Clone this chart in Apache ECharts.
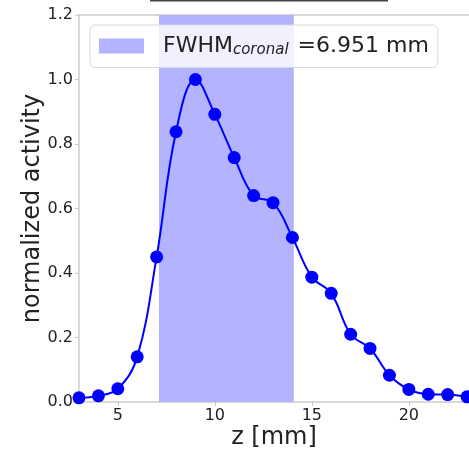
<!DOCTYPE html>
<html>
<head>
<meta charset="utf-8">
<style>
  html, body { margin: 0; padding: 0; background: #fff; }
  #chart { width: 469px; height: 450px; }
</style>
<script src="https://cdn.jsdelivr.net/npm/echarts@6/dist/echarts.min.js"></script>
</head>
<body>
<div id="chart"></div>
<script>
// Axial activity profile along z, normalised to its peak
const zPositions = [3, 4, 5, 6, 7, 8, 9, 10, 11, 12, 13, 14, 15, 16, 17, 18, 19, 20, 21, 22, 23];
const activity = [0.013, 0.019, 0.041, 0.14, 0.45, 0.838, 1.0, 0.892, 0.758, 0.64, 0.618, 0.51,
                  0.387, 0.337, 0.21, 0.166, 0.083, 0.039, 0.024, 0.023, 0.016];

// Full width at half maximum band
const fwhmStart = 7.12;
const fwhmEnd = 14.07;
const fwhmValue = 6.951;

const xTicks = [5, 10, 15, 20];
const yTicks = [0, 0.2, 0.4, 0.6, 0.8, 1.0, 1.2];

const FONT = 'DejaVu Sans';
const TEXT = '#222';
const SPINE = '#cccccc';

const chart = echarts.init(document.getElementById('chart'), null, { renderer: 'canvas' });

chart.setOption({
  animation: false,
  backgroundColor: '#fff',
  grid: { left: 79, top: 15, right: 0, bottom: 48, outerBoundsMode: 'none', containLabel: false },
  xAxis: [{
    type: 'value',
    min: 3, max: 23.1,
    name: 'z [mm]',
    nameLocation: 'middle',
    nameGap: 24,
    nameMoveOverlap: false,
    nameTextStyle: { fontFamily: FONT, fontSize: 24, color: TEXT },
    axisLine: { lineStyle: { color: SPINE, width: 1.5 } },
    axisTick: { show: true, length: 4, lineStyle: { color: SPINE }, customValues: xTicks },
    axisLabel: { fontFamily: FONT, fontSize: 16, color: TEXT, margin: 6, customValues: xTicks },
    splitLine: { show: false }
  }, {
    type: 'value',
    position: 'top',
    min: 3, max: 23.1,
    axisLine: { show: true, lineStyle: { color: SPINE, width: 1.5 } },
    axisTick: { show: false },
    axisLabel: { show: false },
    splitLine: { show: false }
  }],
  yAxis: {
    type: 'value',
    min: 0, max: 1.2,
    name: 'normalized activity',
    nameLocation: 'middle',
    nameGap: 34,
    nameMoveOverlap: false,
    nameRotate: 90,
    nameTextStyle: { fontFamily: FONT, fontSize: 24, color: TEXT },
    axisLine: { show: true, lineStyle: { color: SPINE, width: 1.5 } },
    axisTick: { show: true, length: 4, lineStyle: { color: SPINE }, customValues: yTicks },
    axisLabel: {
      fontFamily: FONT, fontSize: 16, color: TEXT, margin: 6,
      customValues: yTicks,
      formatter: v => v.toFixed(1)
    },
    splitLine: { show: false }
  },
  legend: {
    data: ['FWHM'],
    left: 90, top: 25,
    padding: [10, 9, 10, 9],
    backgroundColor: 'rgba(255,255,255,0.8)',
    borderColor: '#d8d8d8',
    borderWidth: 1,
    borderRadius: 5,
    icon: 'rect',
    itemWidth: 45,
    itemHeight: 15,
    itemGap: 10,
    textStyle: {
      fontFamily: FONT, fontSize: 22, color: TEXT,
      padding: [0, 0, 0, 14],
      rich: {
        sub: { fontFamily: FONT, fontSize: 15, fontStyle: 'italic', color: TEXT, verticalAlign: 'bottom', padding: [8, 2, 0, 0] }
      }
    },
    formatter: () => 'FWHM{sub|coronal} =' + fwhmValue.toFixed(3) + ' mm'
  },
  series: [{
    name: 'FWHM',
    type: 'line',
    data: [],
    color: '#b3b3ff',
    itemStyle: { color: '#b3b3ff' },
    markArea: {
      silent: true,
      itemStyle: { color: '#b3b3ff' },
      data: [[{ xAxis: fwhmStart }, { xAxis: fwhmEnd }]]
    }
  }, {
    name: 'profile',
    type: 'line',
    data: zPositions.map((z, i) => [z, activity[i]]),
    smooth: 0.4,
    clip: true,
    lineStyle: { color: '#0000ff', width: 2 },
    itemStyle: { color: '#0000ff' },
    symbol: 'circle',
    symbolSize: 13,
    z: 3
  }],
  graphic: [{
    type: 'line',
    shape: { x1: 150, y1: 0.5, x2: 388, y2: 0.5 },
    style: { stroke: '#444', lineWidth: 2 },
    z: 100
  }]
});
</script>
</body>
</html>
